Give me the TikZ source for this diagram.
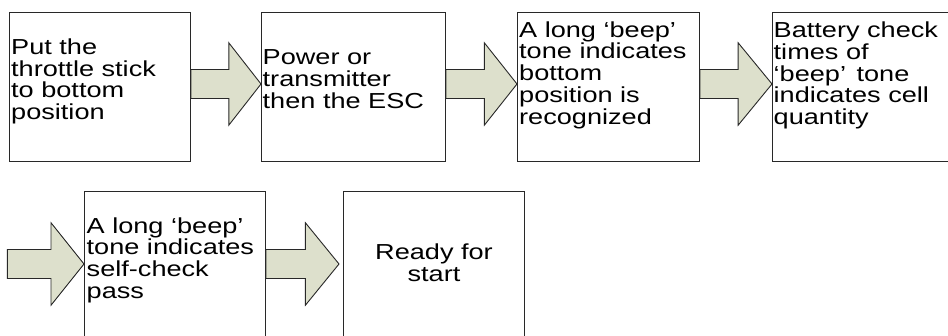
\documentclass[tikz,border=0pt]{standalone}
\usepackage{fontspec}
\setmainfont{Liberation Sans}[FakeStretch=1.25]
\usetikzlibrary{calc}

\definecolor{arrowfill}{RGB}{221,224,204}
\definecolor{edgegray}{RGB}{40,40,40}

\tikzset{
  stepbox/.style={draw=edgegray, line width=1pt, inner sep=0pt,
    anchor=north west, minimum height=149pt},
  steptext/.style={inner sep=0pt, anchor=base west,
    font=\fontsize{21.7}{21.7}\selectfont},
  arrowbody/.style={draw=edgegray, line width=0.9pt, fill=arrowfill,
    line join=miter},
}

% block arrow from #1 to tip #2, head starting at fraction #3
\newcommand\blockarrow[3]{%
  \draw[arrowbody]
    ($(#1)+(0,14.5)$) -- ($(#1)!#3!(#2)+(0,14.5)$)
    -- ($(#1)!#3!(#2)+(0,41.2)$) -- (#2)
    -- ($(#1)!#3!(#2)+(0,-41.2)$) -- ($(#1)!#3!(#2)+(0,-14.5)$)
    -- ($(#1)+(0,-14.5)$) -- cycle;}

\newcommand\linesleft[1]{\parbox[t]{200pt}{\raggedright #1}}
\newcommand\linescenter[1]{\parbox[t]{181pt}{\centering #1}}

\begin{document}
\begin{tikzpicture}[x=1pt, y=-1pt]
  \useasboundingbox (0,0) rectangle (948,336);
  \clip (0,0) rectangle (948,336);
  \fill[white] (0,0) rectangle (948,336);

  % first row of steps
  \node[stepbox, minimum width=181pt] (b1) at (9,12) {};
  \node[stepbox, minimum width=184pt] (b2) at (261,12) {};
  \node[stepbox, minimum width=182pt] (b3) at (517,12) {};
  \node[stepbox, minimum width=188pt] (b4) at (772,12) {};
  % second row of steps
  \node[stepbox, minimum width=181pt, minimum height=154pt] (b5) at (84,191) {};
  \node[stepbox, minimum width=181pt, minimum height=154pt] (b6) at (343,191) {};

  % step texts
  \node[steptext] (t1) at ($(b1.north west)+(2,42.5)$)
    {\linesleft{Put the\\throttle stick\\to bottom\\position}};
  \node[steptext] (t2) at ($(b2.north west)+(1.5,53)$)
    {\linesleft{Power or\\transmitter\\then the ESC}};
  \node[steptext] (t3) at ($(b3.north west)+(2,25.3)$)
    {\linesleft{A long ‘beep’\\tone indicates\\bottom\\position is\\recognized}};
  \node[steptext] (t4) at ($(b4.north west)+(1.5,25.8)$)
    {\linesleft{Battery check\\times of\\‘beep’\hspace{3pt} tone\\indicates cell\\quantity}};
  \node[steptext] (t5) at ($(b5.north west)+(2.5,42.3)$)
    {\linesleft{A long ‘beep’\\tone indicates\\self-check\\pass}};
  \node[steptext, anchor=base] (t6) at ($(b6.north)+(0,69)$)
    {\linescenter{Ready for\\start}};

  % arrow end points
  \coordinate (row1) at (0,84);
  \coordinate (row2) at (0,264);
  \coordinate (a1s) at (b1.east |- row1);
  \coordinate (a1e) at (b2.west |- row1);
  \coordinate (a2s) at (b2.east |- row1);
  \coordinate (a2e) at (b3.west |- row1);
  \coordinate (a3s) at (b3.east |- row1);
  \coordinate (a3e) at (b4.west |- row1);
  \coordinate (a4s) at (7.3,264);
  \coordinate (a4e) at (b5.west |- row2);
  \coordinate (a5s) at (b5.east |- row2);
  \coordinate (a5e) at ($(b6.west |- row2)+(-4,0)$);

  \blockarrow{a1s}{a1e}{0.54}
  \blockarrow{a2s}{a2e}{0.54}
  \blockarrow{a3s}{a3e}{0.53}
  \blockarrow{a4s}{a4e}{0.57}
  \blockarrow{a5s}{a5e}{0.54}
\end{tikzpicture}
\end{document}
